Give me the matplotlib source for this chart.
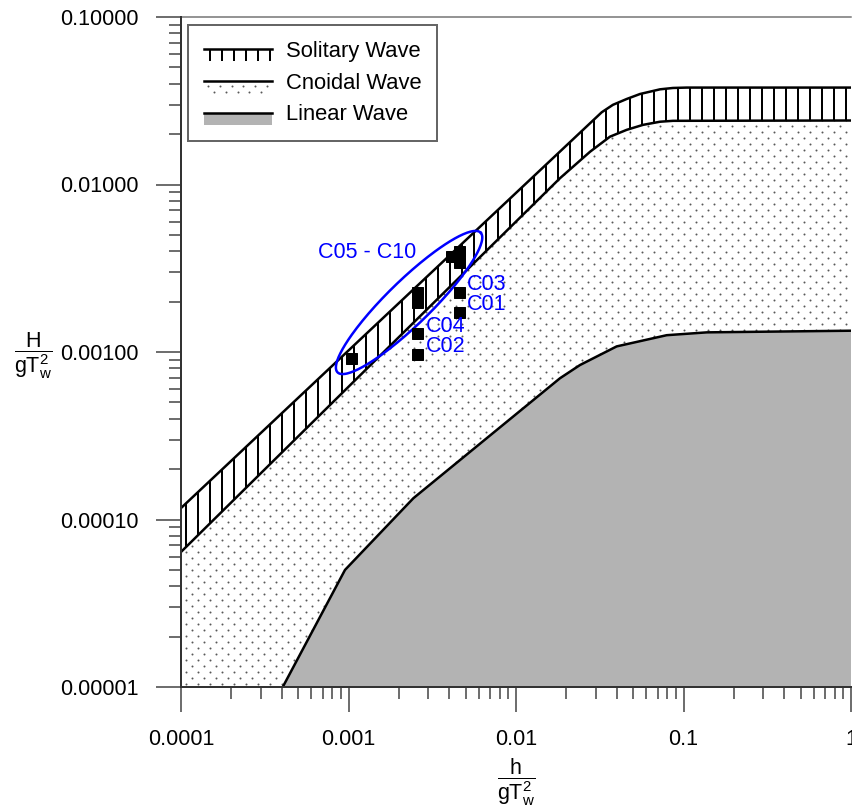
"""Wave theory applicability diagram (Le Mehaute style) with test cases C01-C10."""

import numpy as np
import matplotlib as mpl

mpl.use("Agg")

import matplotlib.pyplot as plt
from matplotlib.legend_handler import HandlerBase
from matplotlib.lines import Line2D
from matplotlib.patches import Polygon, Rectangle
from matplotlib.ticker import NullFormatter

DPI = 72
FIG_W, FIG_H = 852, 808

plt.rcParams.update({
    "font.family": ["Liberation Sans", "DejaVu Sans"],
    "font.size": 21.5,
    "mathtext.fontset": "custom",
    "mathtext.rm": "Liberation Sans",
    "mathtext.it": "Liberation Sans",
    "mathtext.bf": "Liberation Sans:bold",
    "hatch.linewidth": 2.0,
    "hatch.color": "black",
})

# region boundaries, h/gT^2 vs H/gT^2
solitary_top_h = [1e-4, 0.0325, 0.0379, 0.0458, 0.0550, 0.0724, 0.0865, 0.1045, 1.0]
solitary_top_H = [1.17e-4, 0.0270, 0.0299, 0.0324, 0.0347, 0.0370, 0.0377, 0.0379, 0.0379]
solitary_bot_h = [1e-4, 0.0183, 0.0277, 0.0364, 0.0458, 0.0573, 0.0724, 0.0865, 1.0]
solitary_bot_H = [6.4e-5, 0.0109, 0.0157, 0.0193, 0.0212, 0.0227, 0.0237, 0.0240, 0.0241]
linear_h = [4.05e-4, 9.53e-4, 2.44e-3, 0.0183, 0.0241, 0.0399, 0.0794, 0.138, 1.0]
linear_H = [1e-5, 5.0e-5, 1.34e-4, 6.97e-4, 8.36e-4, 1.08e-3, 1.26e-3, 1.31e-3, 1.34e-3]

# labelled test cases
case_names = ["C01", "C02", "C03", "C04"]
case_h = [4.57e-3, 2.58e-3, 4.57e-3, 2.58e-3]
case_H = [1.74e-3, 9.73e-4, 2.29e-3, 1.29e-3]

# cases grouped inside the ellipse
group_h = [1.03e-3, 2.58e-3, 2.58e-3, 4.09e-3, 4.57e-3, 4.57e-3]
group_H = [9.17e-4, 1.99e-3, 2.27e-3, 3.74e-3, 4.01e-3, 3.44e-3]
group_label = "C05 - C10"
group_label_pos = (6.58e-4, 3.9e-3)

# ellipse around the group, in log10 decades
ellipse_center = (2.30e-3, 1.975e-3)
ellipse_semi = (0.597, 0.131)
ellipse_angle = 44.3

x_ticks = [1e-4, 1e-3, 1e-2, 1e-1, 1.0]
x_tick_labels = ["0.0001", "0.001", "0.01", "0.1", "1"]
y_ticks = [1e-5, 1e-4, 1e-3, 1e-2, 1e-1]
y_tick_labels = ["0.00001", "0.00010", "0.00100", "0.01000", "0.10000"]

LINEAR_GRAY = "#b3b3b3"
DOT_GRAY = "0.35"
BAND_DEPTH = 12


class BandHandler(HandlerBase):
    """Legend key: a boundary line with the region's fill beneath it."""

    def __init__(self, kind):
        super().__init__()
        self.kind = kind

    def create_artists(self, legend, orig_handle, xdescent, ydescent,
                       width, height, fontsize, trans):
        x0 = -xdescent
        y_line = -ydescent + height / 2
        artists = []
        if self.kind == "solitary":
            artists.append(Rectangle((x0, y_line - BAND_DEPTH), width, BAND_DEPTH,
                                     facecolor="none", edgecolor="black",
                                     hatch="|", linewidth=0, transform=trans))
        elif self.kind == "cnoidal":
            for dy, shift in [(5, 4), (11, 10)]:
                xs = np.arange(x0 + shift, x0 + width, 11.7)
                artists.append(Line2D(xs, np.full_like(xs, y_line - dy), ls="none",
                                      marker="o", ms=2.0, mew=0, color=DOT_GRAY,
                                      transform=trans))
        else:
            artists.append(Rectangle((x0, y_line - BAND_DEPTH), width, BAND_DEPTH,
                                     facecolor=LINEAR_GRAY, edgecolor="none",
                                     transform=trans))
        artists.append(Line2D([x0, x0 + width], [y_line, y_line], color="black",
                              lw=2.5, transform=trans))
        return artists


fig = plt.figure(figsize=(FIG_W / DPI, FIG_H / DPI), dpi=DPI)
ax_px = (181, FIG_H - 687, 670, 670)
ax = fig.add_axes([ax_px[0] / FIG_W, ax_px[1] / FIG_H, ax_px[2] / FIG_W, ax_px[3] / FIG_H])
ax.set_xscale("log")
ax.set_yscale("log")
ax.set_xlim(1e-4, 1.0)
ax.set_ylim(1e-5, 0.1)

# cnoidal region: below the solitary band, above the linear region
cn_verts = (list(zip(solitary_bot_h, solitary_bot_H))
            + list(zip(linear_h[::-1], linear_H[::-1]))
            + [(x_ticks[0], y_ticks[0])])
cnoidal = Polygon(cn_verts, closed=True, facecolor="white", edgecolor="none", zorder=1)
ax.add_patch(cnoidal)

# stippled texture for the cnoidal region
pitch_x, pitch_y = 12.0, 6.0
dot_x, dot_y = [], []
for i, yy in enumerate(np.arange(3.0, ax_px[3], pitch_y)):
    xs = np.arange(5.0 + (pitch_x / 2) * (i % 2), ax_px[2], pitch_x)
    dot_x.extend(xs / ax_px[2])
    dot_y.extend(np.full(len(xs), yy / ax_px[3]))
dots = ax.scatter(dot_x, dot_y, s=4.0, color=DOT_GRAY, linewidths=0,
                  transform=ax.transAxes, zorder=2)
dots.set_clip_path(cnoidal)

# linear region
ax.fill_between(linear_h, linear_H, y_ticks[0], facecolor=LINEAR_GRAY,
                edgecolor="none", zorder=3)
ax.plot(linear_h, linear_H, color="black", lw=2.5, zorder=4)

# solitary band with vertical hatching
sol_verts = (list(zip(solitary_top_h, solitary_top_H))
             + list(zip(solitary_bot_h[::-1], solitary_bot_H[::-1])))
ax.add_patch(Polygon(sol_verts, closed=True, facecolor="white", edgecolor="black",
                     hatch="|", linewidth=0, zorder=3))
ax.plot(solitary_top_h, solitary_top_H, color="black", lw=2.5, zorder=4)
ax.plot(solitary_bot_h, solitary_bot_H, color="black", lw=2.5, zorder=4)

# ellipse around C05-C10
t = np.linspace(0.0, 2.0 * np.pi, 240)
th = np.deg2rad(ellipse_angle)
a, b = ellipse_semi
lx = np.log10(ellipse_center[0]) + a * np.cos(t) * np.cos(th) - b * np.sin(t) * np.sin(th)
ly = np.log10(ellipse_center[1]) + a * np.cos(t) * np.sin(th) + b * np.sin(t) * np.cos(th)
ax.plot(10 ** lx, 10 ** ly, color="blue", lw=2.5, zorder=5)

# test cases
ax.plot(group_h, group_H, ls="none", marker="s", ms=11, color="black", zorder=6)
ax.plot(case_h, case_H, ls="none", marker="s", ms=11, color="black", zorder=6)
for name, h, H in zip(case_names, case_h, case_H):
    ax.annotate(name, (h, H), xytext=(8, 7), textcoords="offset points",
                color="blue", ha="left", va="center", zorder=7)
ax.text(*group_label_pos, group_label, color="blue", ha="left", va="center", zorder=7)

# axes styling
ax.set_xticks(x_ticks, labels=x_tick_labels)
ax.set_yticks(y_ticks, labels=y_tick_labels)
ax.xaxis.set_minor_formatter(NullFormatter())
ax.yaxis.set_minor_formatter(NullFormatter())
ax.tick_params(which="major", direction="out", length=25, width=1.5, color="0.25", pad=17)
ax.tick_params(which="minor", direction="out", length=12, width=1.5, color="0.25")
for side in ("left", "bottom"):
    ax.spines[side].set_color("0.2")
    ax.spines[side].set_linewidth(2.0)
ax.spines["top"].set_color("0.45")
ax.spines["top"].set_linewidth(1.5)
ax.spines["right"].set_visible(False)
ax.spines["left"].set_zorder(8)
ax.spines["bottom"].set_zorder(8)

ax.set_ylabel(r"$\dfrac{\mathrm{H}}{\mathrm{gT}_{\mathrm{w}}^{2}}$", rotation=0,
              ha="center", va="center")
ax.yaxis.set_label_coords(-0.221, 0.494)
ax.set_xlabel(r"$\dfrac{\mathrm{h}}{\mathrm{gT}_{\mathrm{w}}^{2}}$", va="center")
ax.xaxis.set_label_coords(0.5, -0.142)

keys = [Line2D([], []), Line2D([], []), Line2D([], [])]
leg = ax.legend(keys, ["Solitary Wave", "Cnoidal Wave", "Linear Wave"],
                handler_map={keys[0]: BandHandler("solitary"),
                             keys[1]: BandHandler("cnoidal"),
                             keys[2]: BandHandler("linear")},
                loc="upper left", bbox_to_anchor=(0.0109, 0.988), borderaxespad=0,
                frameon=True, fancybox=False, framealpha=1, edgecolor="0.4",
                fontsize=22, borderpad=0.72, handlelength=3.1, handletextpad=0.6,
                labelspacing=0.49)
leg.get_frame().set_linewidth(2.0)
leg.set_zorder(10)

fig.savefig("out.png", dpi=DPI)
